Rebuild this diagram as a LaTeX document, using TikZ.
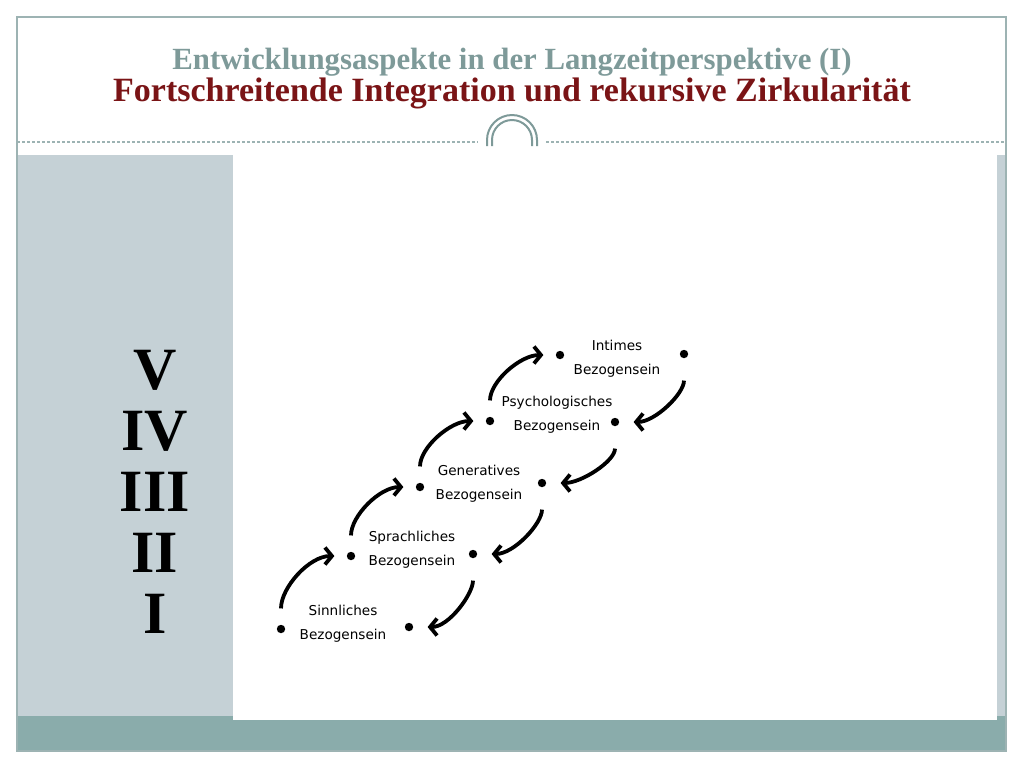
\documentclass[tikz,border=0pt]{standalone}
\usepackage{fontspec}
\usetikzlibrary{arrows.meta}
\newfontfamily\titlefont{Liberation Serif}
\newfontfamily\handfont{DejaVu Sans}
\definecolor{titlegrey}{HTML}{7E9A99}
\definecolor{titlered}{HTML}{7A1416}
\definecolor{sidegrey}{HTML}{C5D1D6}
\definecolor{bandteal}{HTML}{8AACAB}
\definecolor{framegrey}{HTML}{9DB3B3}

\begin{document}
\begin{tikzpicture}[x=0.5pt, y=-0.5pt]
    \tikzstyle level=[font=\handfont\fontsize{6.8}{12}\selectfont, align=center, inner sep=0pt]
    \tikzstyle dot=[circle, fill=black, inner sep=0pt, minimum size=4.2pt]
    \tikzstyle uparrow=[line width=1.9pt, -{Straight Barb[length=3.5pt,width=8.5pt]}, shorten <=8pt, shorten >=6pt]
    \tikzstyle downarrow=[line width=1.9pt, -{Straight Barb[length=3.5pt,width=8.5pt]}, shorten <=11pt, shorten >=7pt]
    \useasboundingbox (0,0) rectangle (1024,768);
    \fill[white] (0,0) rectangle (1024,768);
    % frame and bands
    \fill[bandteal] (17,716) rectangle (1006,751);
    \fill[sidegrey] (17,155) rectangle (233,716);
    \fill[sidegrey] (997,155) rectangle (1006,716);
    \fill[white] (233,155) rectangle (997,720);
    \draw[framegrey, line width=0.8pt] (17,751) -- (17,17) -- (1006,17) -- (1006,751) -- cycle;
    \draw[framegrey, line width=0.8pt, dash pattern=on 1.5pt off 1pt] (17,142) -- (478,142);
    \draw[framegrey, line width=0.8pt, dash pattern=on 1.5pt off 1pt] (546,142) -- (1006,142);
    \draw[titlegrey, line width=1pt] (487,146) -- (487,140) arc[start angle=180, end angle=360, radius=25] -- (537,146);
    \draw[titlegrey, line width=1pt] (492,146) -- (492,140) arc[start angle=180, end angle=360, radius=20] -- (532,146);
    % titles
    \node[font=\titlefont\bfseries\fontsize{15.4}{17}\selectfont, text=titlegrey] (title) at (512,62)
    {Entwicklungsaspekte in der Langzeitperspektive (I)};
    \node[font=\titlefont\bfseries\fontsize{17}{19}\selectfont, text=titlered] (subtitle) at (512,93)
    {Fortschreitende Integration und rekursive Zirkularität};
    \node[font=\titlefont\bfseries\fontsize{30}{30.5}\selectfont, align=center] (stages) at (155,492)
    {V\\IV\\III\\II\\I};
    % levels
    \node[level] (l1) at (343,624) {Sinnliches\\Bezogensein};
    \node[level] (l2) at (412,550) {Sprachliches\\Bezogensein};
    \node[level] (l3) at (479,484) {Generatives\\Bezogensein};
    \node[level] (l4) at (557,415) {Psychologisches\\Bezogensein};
    \node[level] (l5) at (617,359) {Intimes\\Bezogensein};
    \node[dot] (d1l) at (281,629) {};
    \node[dot] (d1r) at (409,627) {};
    \node[dot] (d2l) at (351,556) {};
    \node[dot] (d2r) at (473,554) {};
    \node[dot] (d3l) at (420,487) {};
    \node[dot] (d3r) at (542,483) {};
    \node[dot] (d4l) at (490,421) {};
    \node[dot] (d4r) at (615,422) {};
    \node[dot] (d5l) at (560,355) {};
    \node[dot] (d5r) at (684,354) {};
    % circular steps
    \draw[uparrow] (d1l) to[out=90, in=180] (d2l);
    \draw[uparrow] (d2l) to[out=90, in=180] (d3l);
    \draw[uparrow] (d3l) to[out=90, in=180] (d4l);
    \draw[uparrow] (d4l) to[out=90, in=180] (d5l);
    \draw[downarrow] (d2r) to[out=-90, in=0] (d1r);
    \draw[downarrow] (d3r) to[out=-90, in=0] (d2r);
    \draw[downarrow] (d4r) to[out=-90, in=0] (d3r);
    \draw[downarrow] (d5r) to[out=-90, in=0] (d4r);
\end{tikzpicture}
\end{document}
